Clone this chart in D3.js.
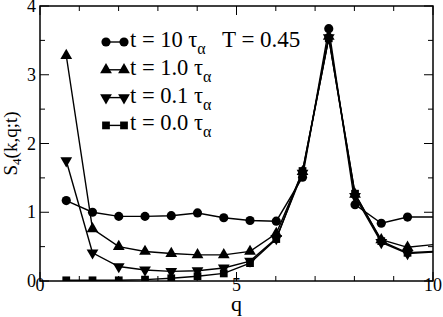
<!DOCTYPE html>
<html><head><meta charset="utf-8">
<script src="https://cdn.jsdelivr.net/npm/d3@7"></script>
<style>body{margin:0;background:#fff}svg{display:block}</style>
</head><body><svg id="c" width="443" height="317" font-family="Liberation Serif"></svg>
<script>
const qValues = [0.668,1.336,2.004,2.672,3.34,4.008,4.676,5.344,6.012,6.68,7.348,8.016,8.684,9.352,10.02];
const s10 = [1.17,1.00,0.94,0.94,0.95,0.99,0.92,0.88,0.87,1.51,3.67,1.11,0.84,0.93,0.93];
const s1  = [3.28,0.76,0.50,0.43,0.40,0.38,0.38,0.43,0.69,1.59,3.56,1.26,0.60,0.49,0.53];
const s01 = [1.75,0.41,0.21,0.16,0.14,0.15,0.19,0.29,0.62,1.57,3.54,1.23,0.56,0.40,0.42];
const s00 = [0.01,0.01,0.01,0.02,0.04,0.07,0.11,0.26,0.61,1.60,3.53,1.27,0.58,0.41,0.43];
const seriesLabels = ["t = 10 ", "t = 1.0 ", "t = 0.1 ", "t = 0.0 "];
const xTicks = [0,5,10];
const yTicks = [0,1,2,3,4];
const tempLabel = "T = 0.45";

const FONT = "Liberation Serif";
const svg = d3.select("#c");
const m = {l:40, r:433, t:6, b:281};
const x = d3.scaleLinear().domain([0,10]).range([m.l, m.r]);
const y = d3.scaleLinear().domain([0,4]).range([m.b, m.t]);
const txt = (sel)=>sel.append("text").attr("font-family",FONT).attr("fill","#000");

svg.append("clipPath").attr("id","clip").append("rect")
  .attr("x", m.l).attr("y", m.t).attr("width", m.r-m.l).attr("height", m.b-m.t);

const g = svg.append("g");
d3.range(0,10.01,1).forEach(v=>{
  const L = (v%5===0)?9:5;
  g.append("line").attr("x1",x(v)).attr("x2",x(v)).attr("y1",m.b).attr("y2",m.b-L).attr("stroke","#000").attr("stroke-width",1);
  g.append("line").attr("x1",x(v)).attr("x2",x(v)).attr("y1",m.t).attr("y2",m.t+L).attr("stroke","#000").attr("stroke-width",1);
});
d3.range(0,4.01,0.5).forEach(v=>{
  const L = (v%1===0)?9:5;
  g.append("line").attr("y1",y(v)).attr("y2",y(v)).attr("x1",m.l).attr("x2",m.l+L).attr("stroke","#000").attr("stroke-width",1);
  g.append("line").attr("y1",y(v)).attr("y2",y(v)).attr("x1",m.r).attr("x2",m.r-L).attr("stroke","#000").attr("stroke-width",1);
});
svg.append("rect").attr("x",m.l).attr("y",m.t).attr("width",m.r-m.l).attr("height",m.b-m.t)
  .attr("fill","none").attr("stroke","#000").attr("stroke-width",1.5);

xTicks.forEach(v=>txt(svg).attr("x",x(v)).attr("y",m.b+10).attr("text-anchor","middle")
  .attr("font-size",18).text(v));
yTicks.forEach(v=>txt(svg).attr("x",m.l-4).attr("y",y(v)+6).attr("text-anchor","end")
  .attr("font-size",18).text(v));

txt(svg).attr("x",x(5)).attr("y",311).attr("text-anchor","middle").attr("font-size",22).text("q");
const yl = txt(svg).attr("transform",`translate(17,${(m.t+m.b)/2}) rotate(-90)`)
  .attr("text-anchor","middle").attr("font-size",19);
yl.append("tspan").text("S");
yl.append("tspan").attr("font-size",13).attr("dy",4).text("4");
yl.append("tspan").attr("dy",-4).text("(k,q;t)");

const sym = {
  circle: d3.symbol().type(d3.symbolCircle).size(66),
  up: d3.symbol().type(d3.symbolTriangle).size(60),
  square: d3.symbol().type(d3.symbolSquare).size(60)
};
const series = [
  {vals:s10, shape:"circle", rot:0},
  {vals:s1, shape:"up", rot:0},
  {vals:s01, shape:"up", rot:180},
  {vals:s00, shape:"square", rot:0}
];
const plot = svg.append("g").attr("clip-path","url(#clip)");
const line = d3.line().x((d,i)=>x(qValues[i])).y(d=>y(d));
series.slice().reverse().forEach(s=>{
  plot.append("path").datum(s.vals).attr("d",line).attr("fill","none").attr("stroke","#000").attr("stroke-width",1.4);
});
series.slice().reverse().forEach(s=>{
  const pts = s.vals.map((v,i)=>({q:qValues[i], v})).filter(d=>d.q<=10);
  plot.selectAll(null).data(pts).enter().append("path")
    .attr("d",sym[s.shape]).attr("fill","#000")
    .attr("transform",d=>`translate(${x(d.q)},${y(d.v)}) rotate(${s.rot})`);
});

const lx1 = 106, lx2 = 124, ly0 = 42, dy = 27.8;
series.forEach((s,i)=>{
  const cy = ly0 + i*dy;
  svg.append("line").attr("x1",lx1).attr("x2",lx2).attr("y1",cy).attr("y2",cy).attr("stroke","#000").attr("stroke-width",1.4);
  [lx1,lx2].forEach(cx=>svg.append("path").attr("d",sym[s.shape]).attr("fill","#000")
    .attr("transform",`translate(${cx},${cy}) rotate(${s.rot})`));
  const t = txt(svg).attr("x",130).attr("y",cy+5).attr("font-size",22.5);
  t.append("tspan").text(seriesLabels[i] + "\u03c4");
  t.append("tspan").attr("font-size",16).attr("dy",7).text("\u03b1");
});
txt(svg).attr("x",222).attr("y",ly0+5).attr("font-size",23).text(tempLabel);
</script></body></html>
